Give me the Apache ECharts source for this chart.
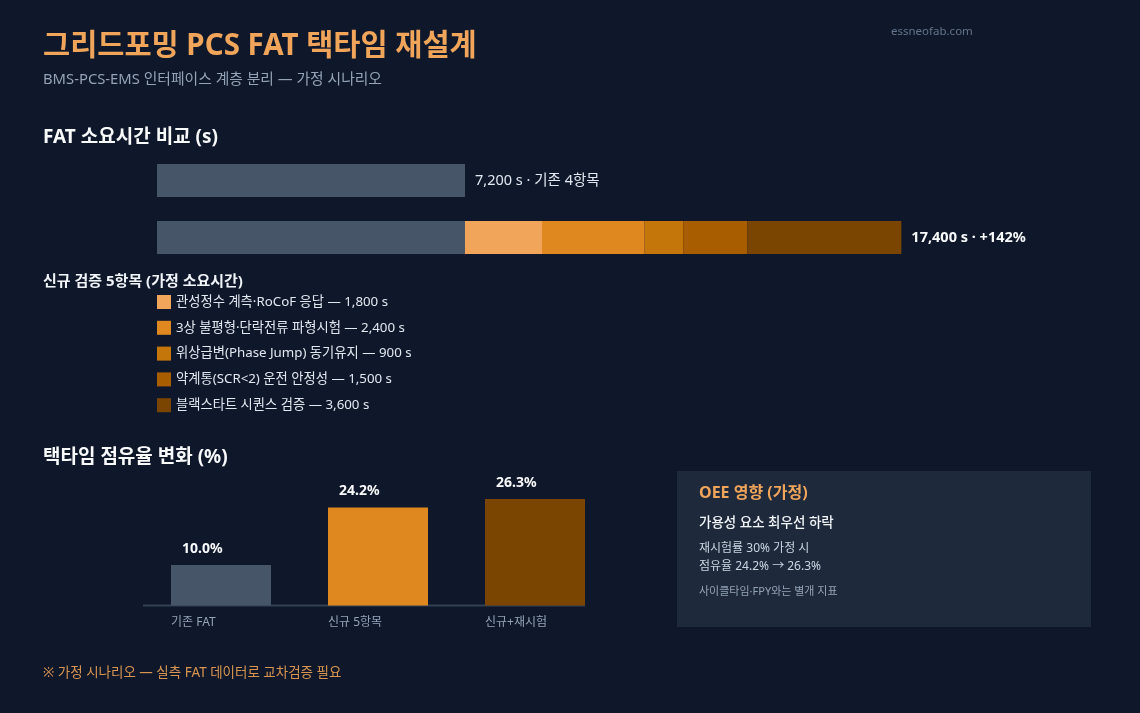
<!DOCTYPE html>
<html>
<head>
<meta charset="utf-8">
<script src="https://cdn.jsdelivr.net/npm/echarts@6/dist/echarts.min.js"></script>
<style>
html,body{margin:0;padding:0;background:#0f172a;}
#c{width:1140px;height:713px;}
</style>
</head>
<body>
<div id="c"></div>
<script>
// ---- data ----
var rowCategories = ['기존', '신규'];
var baseSeconds = 7200;
var newItemNames = ['관성정수 계측·RoCoF 응답', '3상 불평형·단락전류 파형시험', '위상급변(Phase Jump) 동기유지', '약계통(SCR<2) 운전 안정성', '블랙스타트 시퀀스 검증'];
var newItemSeconds = [1800, 2400, 900, 1500, 3600];
var shareCategories = ['기존 FAT', '신규 5항목', '신규+재시험'];
var shareValues = [10.0, 24.2, 26.3];

var FONT = "'Noto Sans', 'Noto Sans CJK KR', sans-serif";
var segColors = ['#f0a55a', '#e08820', '#c4760a', '#a85d00', '#7a4500'];
var greyColor = '#475569';
var shareColors = ['#475569', '#e08820', '#7a4500'];

function fmt(n) { return n.toLocaleString('en-US'); }
var totalNew = baseSeconds + newItemSeconds.reduce(function (a, b) { return a + b; }, 0);
var pct = Math.round((totalNew / baseSeconds - 1) * 100);

var series = [];
series.push({
  type: 'bar', name: '기존 FAT', stack: 't', xAxisIndex: 0, yAxisIndex: 0,
  barWidth: 33, itemStyle: { color: greyColor },
  data: [
    { value: baseSeconds, label: { show: true, position: 'right', distance: 10, color: '#e2e8f0', fontSize: 14.5, fontFamily: FONT, formatter: fmt(baseSeconds) + ' s · 기존 4항목' } },
    baseSeconds
  ],
  silent: true
});
newItemNames.forEach(function (nm, i) {
  var d = ['-', newItemSeconds[i]];
  if (i === newItemNames.length - 1) {
    d[1] = { value: newItemSeconds[i], label: { show: true, position: 'right', distance: 10, color: '#f8fafc', fontSize: 14.5, fontWeight: 'bold', fontFamily: FONT, formatter: fmt(totalNew) + ' s · +' + pct + '%' } };
  }
  series.push({
    type: 'bar', name: nm, stack: 't', xAxisIndex: 0, yAxisIndex: 0,
    barWidth: 33, itemStyle: { color: segColors[i] }, data: d, silent: true
  });
});
series.push({
  type: 'bar', name: 'share', xAxisIndex: 1, yAxisIndex: 1, barWidth: 100,
  data: shareValues.map(function (v, i) { return { value: v, itemStyle: { color: shareColors[i] } }; }),
  label: { show: true, position: [11, -16], align: 'left', verticalAlign: 'middle', color: '#f8fafc', fontSize: 14, fontWeight: 'bold', fontFamily: FONT, formatter: function (p) { return p.value.toFixed(1) + '%'; } },
  silent: true
});

function txt(x, y, text, size, color, weight) {
  return { type: 'text', x: x, y: y, silent: true, style: { text: text, fill: color, font: (weight || 'normal') + ' ' + size + 'px ' + FONT, align: 'left', verticalAlign: 'middle' } };
}

var chart = echarts.init(document.getElementById('c'), null, { renderer: 'canvas' });
chart.setOption({
  backgroundColor: '#0f172a',
  animation: false,
  textStyle: { fontFamily: FONT },
  grid: [
    { left: 157, right: 127.44, top: 152, height: 114 },
    { left: 142.5, width: 471, top: 484, height: 121.5 }
  ],
  xAxis: [
    { type: 'value', gridIndex: 0, min: 0, max: 20000, show: false },
    { type: 'category', gridIndex: 1, data: shareCategories, axisLine: { show: false }, axisTick: { show: false },
      axisLabel: { margin: 11, color: '#94a3b8', fontSize: 12, fontFamily: FONT, align: 'center',
        formatter: function (v) { return '{a|' + v + '}'; },
        rich: { a: { width: 100, align: 'left', color: '#94a3b8', fontSize: 12, fontFamily: FONT } } } }
  ],
  yAxis: [
    { type: 'category', gridIndex: 0, data: rowCategories, inverse: true, show: false },
    { type: 'value', gridIndex: 1, min: 0, max: 30, show: false }
  ],
  legend: {
    data: newItemNames, orient: 'vertical', left: 157, top: 295, padding: 0, itemWidth: 14, itemHeight: 14, itemGap: 11.8,
    icon: 'rect', selectedMode: false,
    textStyle: { color: '#e2e8f0', fontSize: 13.3, fontFamily: FONT },
    formatter: function (name) { var i = newItemNames.indexOf(name); return name + ' — ' + fmt(newItemSeconds[i]) + ' s'; }
  },
  series: series,
  graphic: [
    txt(43, 46.5, '그리드포밍 PCS FAT 택타임 재설계', 29.5, '#f0a55a', 'bold'),
    txt(43, 79.5, 'BMS-PCS-EMS 인터페이스 계층 분리 — 가정 시나리오', 14.8, '#94a3b8'),
    txt(891, 32, 'essneofab.com', 11.5, '#64748b'),
    txt(43, 137.5, 'FAT 소요시간 비교 (s)', 19, '#f8fafc', 'bold'),
    txt(43, 281.5, '신규 검증 5항목 (가정 소요시간)', 15, '#f1f5f9', 'bold'),
    txt(43, 457.5, '택타임 점유율 변화 (%)', 19, '#f8fafc', 'bold'),
    { type: 'line', silent: true, shape: { x1: 143, y1: 605.5, x2: 585, y2: 605.5 }, style: { stroke: '#334155', lineWidth: 2 } },
    { type: 'rect', silent: true, z: -1, shape: { x: 677, y: 471, width: 414, height: 156 }, style: { fill: '#1e293b' } },
    txt(699, 493, 'OEE 영향 (가정)', 16, '#f0a55a', 'bold'),
    txt(699, 523, '가용성 요소 최우선 하락', 13.5, '#f1f5f9', '500'),
    txt(699, 549, '재시험률 30% 가정 시', 12, '#cbd5e1'),
    txt(699, 567, '점유율 24.2% → 26.3%', 12, '#cbd5e1'),
    txt(699, 592, '사이클타임·FPY와는 별개 지표', 11, '#94a3b8'),
    txt(43, 673.5, '※ 가정 시나리오 — 실측 FAT 데이터로 교차검증 필요', 13.5, '#d99550')
  ]
});
</script>
</body>
</html>
